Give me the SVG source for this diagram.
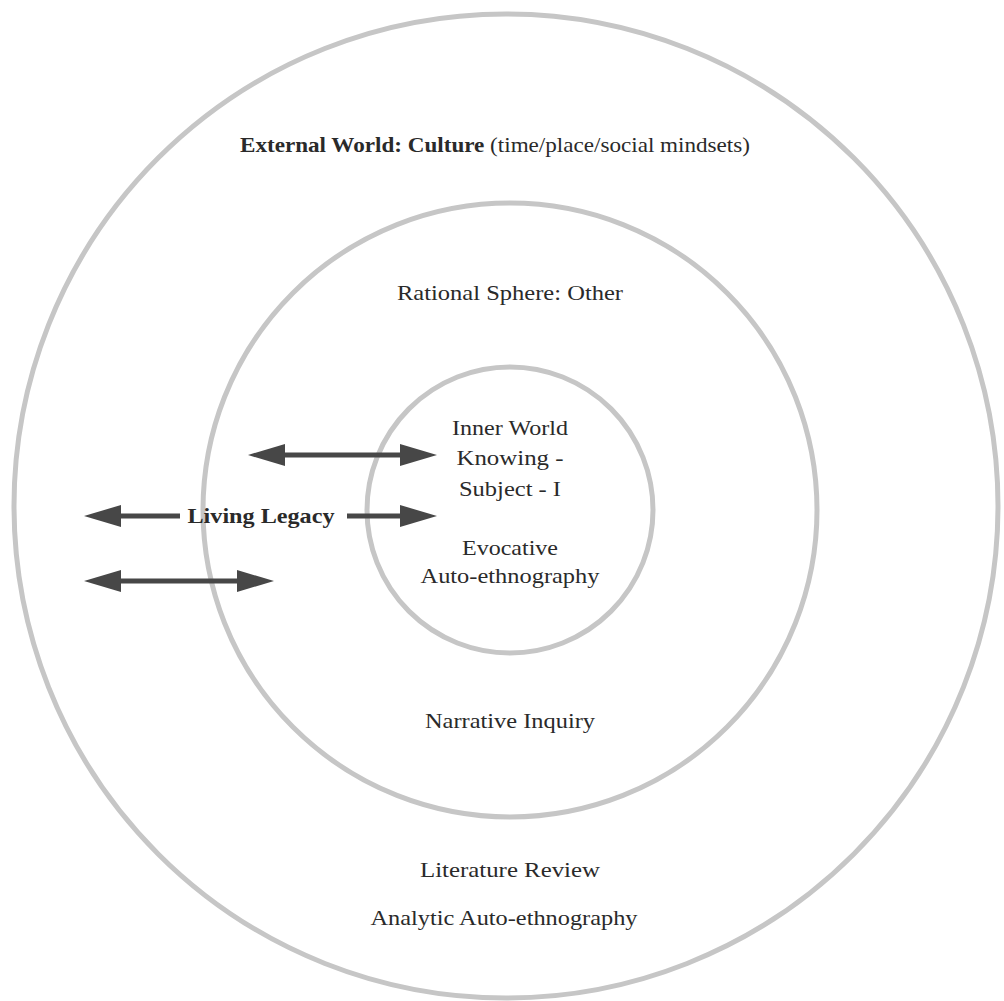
<svg xmlns="http://www.w3.org/2000/svg" width="1004" height="1001" viewBox="0 0 1004 1001">
<style>
.ring{fill:none;stroke:#c6c6c6;stroke-width:5}
.t{font-family:"Liberation Serif","Times New Roman",serif;font-size:22px;fill:#2a2a2a;text-anchor:middle}
.b{font-weight:bold}
.shaft{stroke:#474747;stroke-width:5;fill:none}
</style>
<defs>
<marker id="ah" markerUnits="userSpaceOnUse" markerWidth="38" markerHeight="22" refX="1" refY="11" orient="auto-start-reverse" viewBox="0 0 38 22">
<path d="M0,0 L37,11 L0,22 z" fill="#474747"/>
</marker>
</defs>
<rect width="1004" height="1001" fill="#ffffff"/>
<g id="outer">
<circle class="ring" cx="506" cy="506" r="492"/>
<text class="t" x="495" y="152" textLength="510" lengthAdjust="spacingAndGlyphs"><tspan class="b">External World: Culture</tspan> (time/place/social mindsets)</text>
<text class="t" x="510" y="877" textLength="180" lengthAdjust="spacingAndGlyphs">Literature Review</text>
<text class="t" x="504" y="925" textLength="267" lengthAdjust="spacingAndGlyphs">Analytic Auto-ethnography</text>
</g>
<g id="middle">
<circle class="ring" cx="510" cy="510" r="307"/>
<text class="t" x="510" y="300" textLength="226" lengthAdjust="spacingAndGlyphs">Rational Sphere: Other</text>
<text class="t" x="510" y="728" textLength="170" lengthAdjust="spacingAndGlyphs">Narrative Inquiry</text>
</g>
<g id="inner">
<circle class="ring" cx="510" cy="510" r="143"/>
<text class="t" x="510" y="435" textLength="116" lengthAdjust="spacingAndGlyphs">Inner World</text>
<text class="t" x="510" y="465" textLength="107" lengthAdjust="spacingAndGlyphs">Knowing -</text>
<text class="t" x="510" y="496" textLength="102" lengthAdjust="spacingAndGlyphs">Subject - I</text>
<text class="t" x="510" y="555" textLength="96" lengthAdjust="spacingAndGlyphs">Evocative</text>
<text class="t" x="510" y="583" textLength="179" lengthAdjust="spacingAndGlyphs">Auto-ethnography</text>
</g>
<g id="living-legacy">
<text class="t b" x="261" y="523" textLength="147" lengthAdjust="spacingAndGlyphs">Living Legacy</text>
</g>
<g id="connectors">
<line class="shaft" x1="284" y1="455" x2="401" y2="455" marker-start="url(#ah)" marker-end="url(#ah)"/>
<line class="shaft" x1="180" y1="516" x2="120" y2="516" marker-end="url(#ah)"/>
<line class="shaft" x1="347" y1="516" x2="401" y2="516" marker-end="url(#ah)"/>
<line class="shaft" x1="120" y1="581" x2="238" y2="581" marker-start="url(#ah)" marker-end="url(#ah)"/>
</g>
</svg>
